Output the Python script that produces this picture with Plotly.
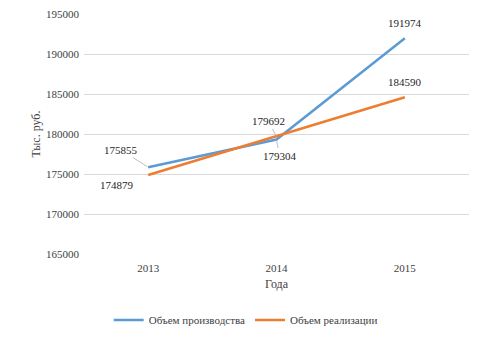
import plotly.graph_objects as go

years = ["2013", "2014", "2015"]
production = [175855, 179304, 191974]
sales = [174879, 179692, 184590]
y_ticks = [165000, 170000, 175000, 180000, 185000, 190000, 195000]

blue = "#5B9BD5"
orange = "#ED7D31"
font_family = "Liberation Serif, Times New Roman, serif"

fig = go.Figure()
fig.add_trace(go.Scatter(x=years, y=production, mode="lines", name="Объем производства",
                         line=dict(color=blue, width=2.5)))
fig.add_trace(go.Scatter(x=years, y=sales, mode="lines", name="Объем реализации",
                         line=dict(color=orange, width=2.5)))

# value labels: (series, index, x offset, y offset, leader line shown)
label_specs = [
    (production, 0, -27, -17, True),
    (sales, 0, -31, 10, False),
    (sales, 1, -8, -15, True),
    (production, 1, 3, 16, True),
    (production, 2, 0, -15, False),
    (sales, 2, 0, -15, False),
]
for series, i, ax, ay, leader in label_specs:
    fig.add_annotation(
        x=i, y=series[i], xref="x", yref="y",
        text=str(series[i]), showarrow=True, ax=ax, ay=ay,
        arrowhead=0, arrowwidth=1, standoff=1,
        arrowcolor="#BFBFBF" if leader else "rgba(0,0,0,0)",
        font=dict(family=font_family, size=11, color="#262626"),
    )

fig.update_layout(
    width=480, height=337,
    margin=dict(l=84, r=11, t=14, b=83, autoexpand=False),
    paper_bgcolor="white", plot_bgcolor="white",
    font=dict(family=font_family, size=11, color="#404040"),
    showlegend=True,
    legend=dict(orientation="h", x=0.42, xanchor="center", y=-0.275, yanchor="middle",
                font=dict(family=font_family, size=11, color="#404040"),
                itemwidth=30, tracegroupgap=0),
    xaxis=dict(
        type="category", range=[-0.5, 2.5], autorange=False,
        showgrid=False, zeroline=False, showline=False,
        ticks="", ticklabelstandoff=6, tickfont=dict(size=11, color="#404040"),
        title=dict(text="Года", font=dict(size=12, color="#404040"), standoff=6),
    ),
    yaxis=dict(
        range=[165000, 195000], tickvals=y_ticks, ticktext=[str(v) for v in y_ticks],
        showgrid=True, gridcolor="#D9D9D9", gridwidth=1, zeroline=False, showline=False,
        ticks="", ticklabelstandoff=4, tickfont=dict(size=11, color="#404040"),
        title=dict(text="Тыс. руб.", font=dict(size=12, color="#404040"), standoff=2),
    ),
)

fig.write_html("out.html")
